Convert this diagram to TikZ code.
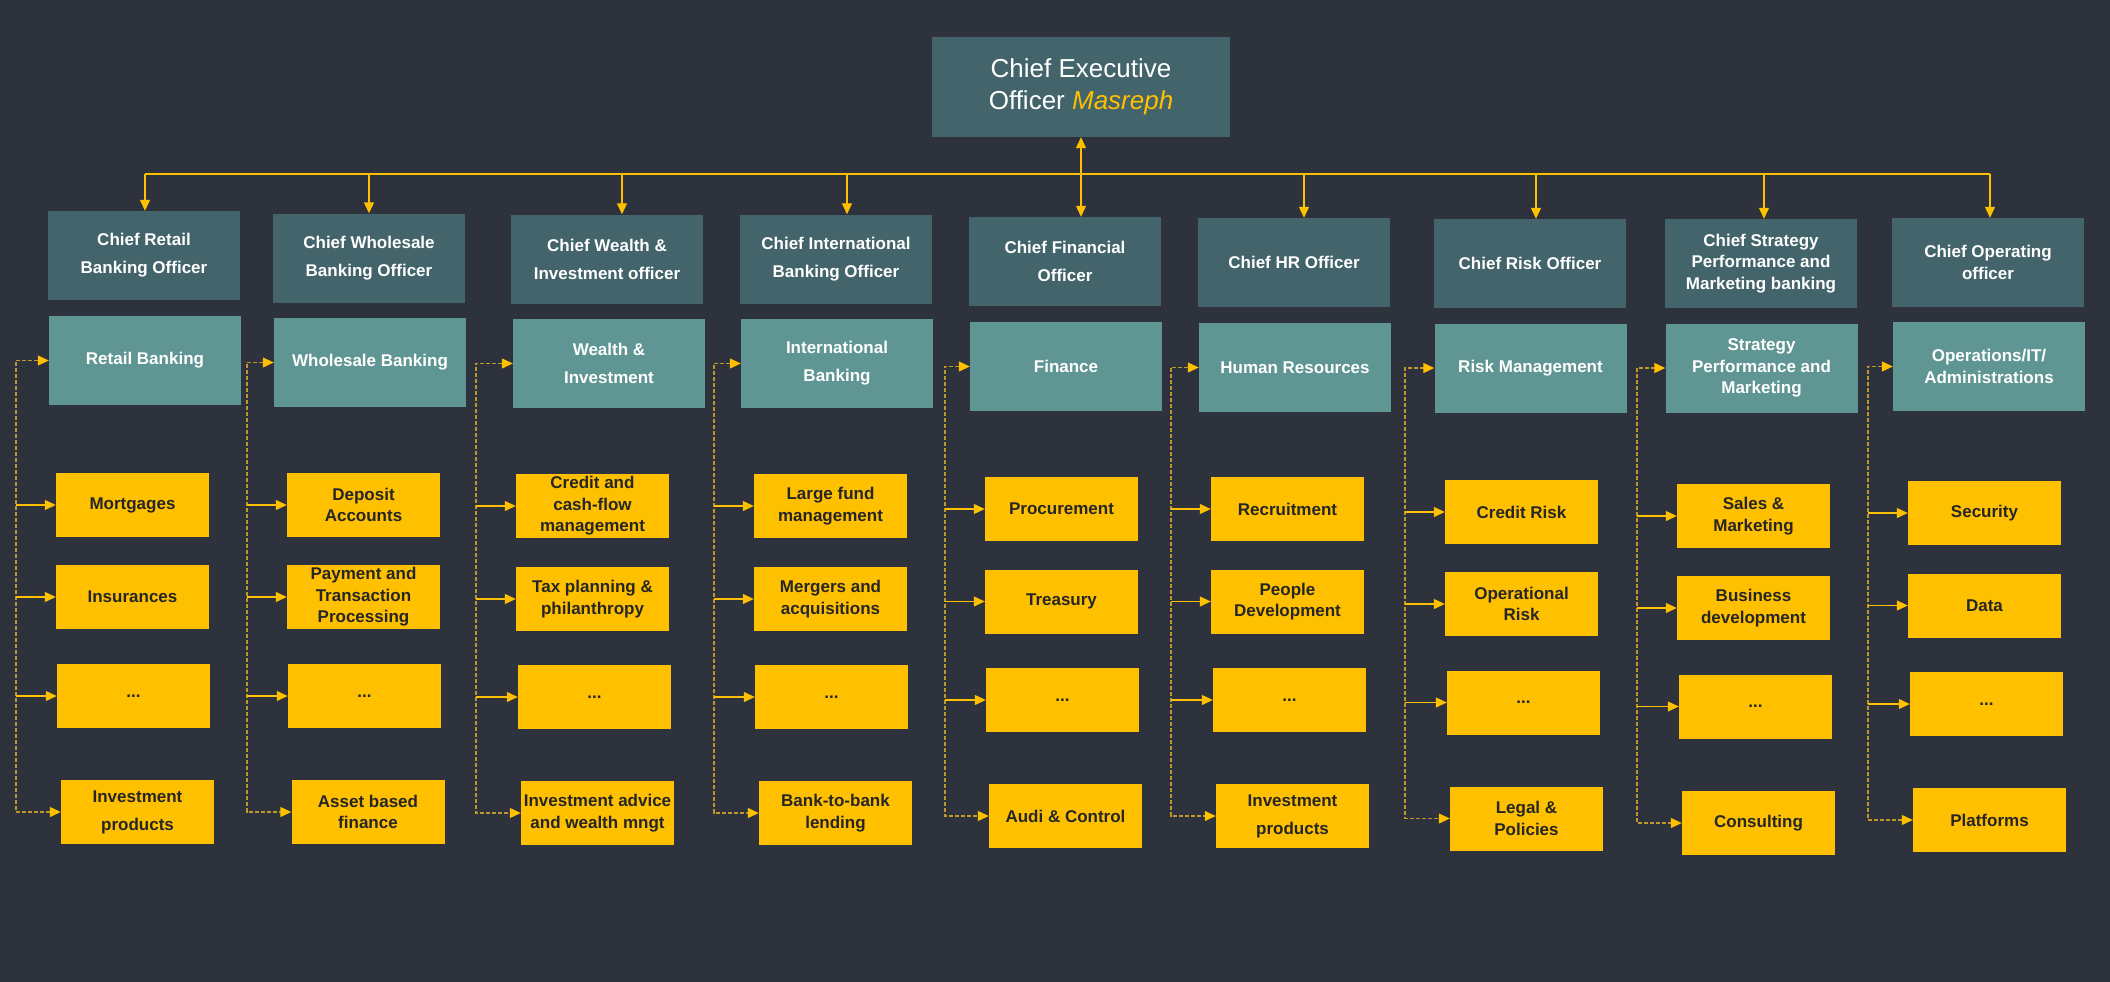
\documentclass[tikz,border=0pt]{standalone}
\usepackage{fontspec}
\setmainfont{Liberation Sans}
\usetikzlibrary{arrows.meta}
\definecolor{bgdark}{RGB}{46,50,61}
\definecolor{chiefteal}{RGB}{66,100,106}
\definecolor{deptteal}{RGB}{95,150,147}
\definecolor{unityellow}{RGB}{255,192,0}
\definecolor{linkgold}{RGB}{190,152,42}
\definecolor{inkdark}{RGB}{38,38,38}
\newcommand{\boxfont}[1]{\fontsize{17}{#1}\selectfont\bfseries}
\tikzset{
  ceo/.style={fill=chiefteal,text=white,minimum width=298pt,minimum height=100pt,
    inner sep=0pt,align=center,font=\fontsize{26}{32}\selectfont},
  chief/.style={fill=chiefteal,text=white,minimum width=192pt,minimum height=89pt,
    inner sep=0pt,align=center,font=\boxfont{28}},
  dept/.style={chief,fill=deptteal},
  unitbox/.style={fill=unityellow,text=inkdark,minimum width=153pt,minimum height=64pt,
    inner sep=0pt,align=center,font=\boxfont{21.5}},
  tight/.style={font=\boxfont{21.5}},
  loose/.style={font=\boxfont{28}},
  bus/.style={draw=unityellow,line width=1.2pt},
  feed/.style={bus,-{Triangle[length=11pt,width=10pt]}},
  link/.style={draw=linkgold,line width=1.2pt,dash pattern=on 4pt off 2pt,
    {Triangle[length=11pt,width=10pt,color=unityellow]}-{Triangle[length=11pt,width=10pt,color=unityellow]}},
}

\begin{document}
\begin{tikzpicture}[x=1pt,y=-1pt]
  \fill[bgdark] (0,0) rectangle (2110,982);

  \node[ceo] (ceo) at (1081,87) {Chief Executive\\Officer \textcolor{unityellow}{\itshape Masreph}};

  % chief officers
  \node[chief] (c1) at (144,255.5) {Chief Retail\\Banking Officer};
  \node[chief] (c2) at (369,258) {Chief Wholesale\\Banking Officer};
  \node[chief] (c3) at (607,259) {Chief Wealth \&\\Investment officer};
  \node[chief] (c4) at (836,259) {Chief International\\Banking Officer};
  \node[chief] (c5) at (1065,261.5) {Chief Financial\\Officer};
  \node[chief] (c6) at (1294,262.5) {Chief HR Officer};
  \node[chief] (c7) at (1530,263.5) {Chief Risk Officer};
  \node[chief,tight] (c8) at (1761,263.5) {Chief Strategy\\Performance and\\Marketing banking};
  \node[chief,tight] (c9) at (1988,262.5) {Chief Operating\\officer};

  % departments
  \node[dept] (d1) at (145,360.5) {Retail Banking};
  \node[dept] (d2) at (370,362.5) {Wholesale Banking};
  \node[dept] (d3) at (609,363.5) {Wealth \&\\Investment};
  \node[dept] (d4) at (837,363.5) {International\\Banking};
  \node[dept] (d5) at (1066,366.5) {Finance};
  \node[dept] (d6) at (1295,367.5) {Human Resources};
  \node[dept] (d7) at (1530.5,368) {Risk Management};
  \node[dept,tight] (d8) at (1761.5,368) {Strategy\\Performance and\\Marketing};
  \node[dept,tight] (d9) at (1989,366.5) {Operations/IT/\\Administrations};

  % units
  \node[unitbox] (u1a) at (132.5,505) {Mortgages};
  \node[unitbox] (u1b) at (132.5,597) {Insurances};
  \node[unitbox] (u1c) at (133.5,696) {...};
  \node[unitbox,loose] (u1d) at (137.5,812) {Investment\\products};

  \node[unitbox] (u2a) at (363.5,505) {Deposit\\Accounts};
  \node[unitbox] (u2b) at (363.5,597) {Payment and\\Transaction\\Processing};
  \node[unitbox] (u2c) at (364.5,696) {...};
  \node[unitbox] (u2d) at (368,812) {Asset based\\finance};

  \node[unitbox] (u3a) at (592.5,506) {Credit and\\cash-flow\\management};
  \node[unitbox] (u3b) at (592.5,599) {Tax planning \&\\philanthropy};
  \node[unitbox] (u3c) at (594.5,697) {...};
  \node[unitbox] (u3d) at (597.5,813) {Investment advice\\and wealth mngt};

  \node[unitbox] (u4a) at (830.5,506) {Large fund\\management};
  \node[unitbox] (u4b) at (830.5,599) {Mergers and\\acquisitions};
  \node[unitbox] (u4c) at (831.5,697) {...};
  \node[unitbox] (u4d) at (835.5,813) {Bank-to-bank\\lending};

  \node[unitbox] (u5a) at (1061.5,509) {Procurement};
  \node[unitbox] (u5b) at (1061.5,601.5) {Treasury};
  \node[unitbox] (u5c) at (1062.5,700) {...};
  \node[unitbox] (u5d) at (1065.5,816) {Audi \& Control};

  \node[unitbox] (u6a) at (1287.5,509) {Recruitment};
  \node[unitbox] (u6b) at (1287.5,601.5) {People\\Development};
  \node[unitbox] (u6c) at (1289.5,700) {...};
  \node[unitbox,loose] (u6d) at (1292.5,816) {Investment\\products};

  \node[unitbox] (u7a) at (1521.5,512) {Credit Risk};
  \node[unitbox] (u7b) at (1521.5,604) {Operational\\Risk};
  \node[unitbox] (u7c) at (1523.5,702.5) {...};
  \node[unitbox] (u7d) at (1526.5,818.5) {Legal \&\\Policies};

  \node[unitbox] (u8a) at (1753.5,516) {Sales \&\\Marketing};
  \node[unitbox] (u8b) at (1753.5,608) {Business\\development};
  \node[unitbox] (u8c) at (1755.5,706.5) {...};
  \node[unitbox] (u8d) at (1758.5,823) {Consulting};

  \node[unitbox] (u9a) at (1984.5,513) {Security};
  \node[unitbox] (u9b) at (1984.5,605.5) {Data};
  \node[unitbox] (u9c) at (1986.5,704) {...};
  \node[unitbox] (u9d) at (1989.5,820) {Platforms};

  % ceo to chiefs
  \coordinate (hub) at (1081,174);
  \coordinate (t1) at ([xshift=1pt]c1.north);
  \coordinate (t2) at (c2.north);
  \coordinate (t3) at ([xshift=15pt]c3.north);
  \coordinate (t4) at ([xshift=11pt]c4.north);
  \coordinate (t6) at ([xshift=10pt]c6.north);
  \coordinate (t7) at ([xshift=6pt]c7.north);
  \coordinate (t8) at ([xshift=3pt]c8.north);
  \coordinate (t9) at ([xshift=2pt]c9.north);
  \draw[bus] (t1 |- hub) -- (t9 |- hub);
  \draw[feed] (hub) -- (ceo.south);
  \draw[feed] (t1 |- hub) -- (t1);
  \draw[feed] (t2 |- hub) -- (t2);
  \draw[feed] (t3 |- hub) -- (t3);
  \draw[feed] (t4 |- hub) -- (t4);
  \draw[feed] (hub) -- (hub |- c5.north);
  \draw[feed] (t6 |- hub) -- (t6);
  \draw[feed] (t7 |- hub) -- (t7);
  \draw[feed] (t8 |- hub) -- (t8);
  \draw[feed] (t9 |- hub) -- (t9);

  % departments to units
  \coordinate (s1) at (16,0);
  \coordinate (s2) at (247,0);
  \coordinate (s3) at (476,0);
  \coordinate (s4) at (714,0);
  \coordinate (s5) at (945,0);
  \coordinate (s6) at (1171,0);
  \coordinate (s7) at (1405,0);
  \coordinate (s8) at (1637,0);
  \coordinate (s9) at (1868,0);

  \draw[link] (d1.west) -- (d1.west -| s1) |- (u1d.west);
  \draw[feed] (u1a.west -| s1) -- (u1a.west);
  \draw[feed] (u1b.west -| s1) -- (u1b.west);
  \draw[feed] (u1c.west -| s1) -- (u1c.west);

  \draw[link] (d2.west) -- (d2.west -| s2) |- (u2d.west);
  \draw[feed] (u2a.west -| s2) -- (u2a.west);
  \draw[feed] (u2b.west -| s2) -- (u2b.west);
  \draw[feed] (u2c.west -| s2) -- (u2c.west);

  \draw[link] (d3.west) -- (d3.west -| s3) |- (u3d.west);
  \draw[feed] (u3a.west -| s3) -- (u3a.west);
  \draw[feed] (u3b.west -| s3) -- (u3b.west);
  \draw[feed] (u3c.west -| s3) -- (u3c.west);

  \draw[link] (d4.west) -- (d4.west -| s4) |- (u4d.west);
  \draw[feed] (u4a.west -| s4) -- (u4a.west);
  \draw[feed] (u4b.west -| s4) -- (u4b.west);
  \draw[feed] (u4c.west -| s4) -- (u4c.west);

  \draw[link] (d5.west) -- (d5.west -| s5) |- (u5d.west);
  \draw[feed] (u5a.west -| s5) -- (u5a.west);
  \draw[feed] (u5b.west -| s5) -- (u5b.west);
  \draw[feed] (u5c.west -| s5) -- (u5c.west);

  \draw[link] (d6.west) -- (d6.west -| s6) |- (u6d.west);
  \draw[feed] (u6a.west -| s6) -- (u6a.west);
  \draw[feed] (u6b.west -| s6) -- (u6b.west);
  \draw[feed] (u6c.west -| s6) -- (u6c.west);

  \draw[link] (d7.west) -- (d7.west -| s7) |- (u7d.west);
  \draw[feed] (u7a.west -| s7) -- (u7a.west);
  \draw[feed] (u7b.west -| s7) -- (u7b.west);
  \draw[feed] (u7c.west -| s7) -- (u7c.west);

  \draw[link] (d8.west) -- (d8.west -| s8) |- (u8d.west);
  \draw[feed] (u8a.west -| s8) -- (u8a.west);
  \draw[feed] (u8b.west -| s8) -- (u8b.west);
  \draw[feed] (u8c.west -| s8) -- (u8c.west);

  \draw[link] (d9.west) -- (d9.west -| s9) |- (u9d.west);
  \draw[feed] (u9a.west -| s9) -- (u9a.west);
  \draw[feed] (u9b.west -| s9) -- (u9b.west);
  \draw[feed] (u9c.west -| s9) -- (u9c.west);
\end{tikzpicture}
\end{document}
